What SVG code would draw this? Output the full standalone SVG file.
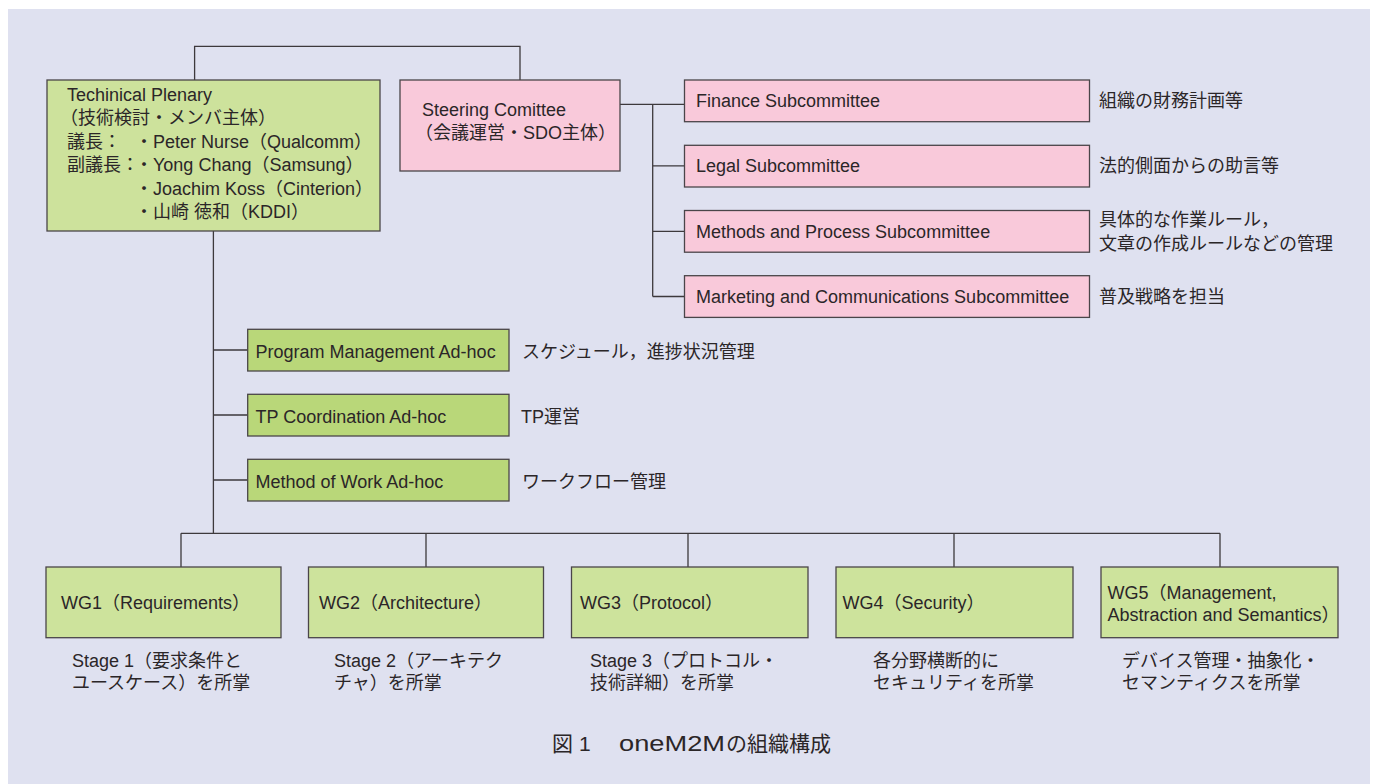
<svg xmlns="http://www.w3.org/2000/svg" width="1377" height="784" viewBox="0 0 1377 784">
  <style>
    text { font-family: "Liberation Sans", "Noto Sans CJK JP", sans-serif; font-size: 18px; fill: #2b2628; }
    .wire { fill: none; stroke: #3d393c; stroke-width: 1.3; }
    .box { stroke: #4a4549; stroke-width: 1.3; }
    .tp { fill: #cde29c; }
    .pink { fill: #f9c9da; }
    .adhoc { fill: #b9d779; }
    .wg { fill: #cde39c; }
    .cap { font-size: 21px; }
  </style>

  <!-- page background -->
  <rect x="0" y="0" width="1377" height="784" fill="#ffffff"/>
  <rect x="8" y="9" width="1362" height="775" fill="#dfe1f0"/>

  <!-- connectors -->
  <g id="connectors">
    <path class="wire" d="M194.6,80 V46.3 H520 V80"/>
    <path class="wire" d="M620,104.3 H684.5 M652.7,104.3 V296.5 M652.7,165.8 H684.5 M652.7,231.3 H684.5 M652.7,296.5 H684.5"/>
    <path class="wire" d="M213.4,231 V533.3 M213.4,350 H247.7 M213.4,415 H247.7 M213.4,480 H247.7"/>
    <path class="wire" d="M181,533.3 H1220 M181,533.3 V567 M426,533.3 V567 M688,533.3 V567 M954,533.3 V567 M1220,533.3 V567"/>
  </g>

  <!-- Technical Plenary -->
  <g id="technical-plenary">
    <rect class="box tp" x="47" y="80" width="333" height="151"/>
    <text x="67" y="101">Techinical Plenary</text>
    <text x="60" y="124">（技術検討・メンバ主体）</text>
    <text x="67" y="148">議長：<tspan x="135">・Peter Nurse（Qualcomm）</tspan></text>
    <text x="67" y="171">副議長：<tspan x="135">・Yong Chang（Samsung）</tspan></text>
    <text x="135" y="195">・Joachim Koss（Cinterion）</text>
    <text x="135" y="218">・山崎 徳和（KDDI）</text>
  </g>

  <!-- Steering Committee -->
  <g id="steering-committee">
    <rect class="box pink" x="400" y="80" width="220" height="91"/>
    <text x="422" y="116">Steering Comittee</text>
    <text x="415" y="139">（会議運営・SDO主体）</text>
  </g>

  <!-- subcommittees -->
  <g id="finance-subcommittee">
    <rect class="box pink" x="684.5" y="80" width="405" height="41.7"/>
    <text x="696" y="107">Finance Subcommittee</text>
    <text x="1099" y="107">組織の財務計画等</text>
  </g>
  <g id="legal-subcommittee">
    <rect class="box pink" x="684.5" y="145.3" width="405" height="41.7"/>
    <text x="696" y="172">Legal Subcommittee</text>
    <text x="1099" y="172">法的側面からの助言等</text>
  </g>
  <g id="methods-subcommittee">
    <rect class="box pink" x="684.5" y="210.5" width="405" height="41.7"/>
    <text x="696" y="237.5">Methods and Process Subcommittee</text>
    <text x="1099" y="226">具体的な作業ルール，</text>
    <text x="1099" y="250">文章の作成ルールなどの管理</text>
  </g>
  <g id="marketing-subcommittee">
    <rect class="box pink" x="684.5" y="275.7" width="405" height="41.7"/>
    <text x="696" y="302.5">Marketing and Communications Subcommittee</text>
    <text x="1099" y="302.5">普及戦略を担当</text>
  </g>

  <!-- ad-hoc groups -->
  <g id="program-management">
    <rect class="box adhoc" x="247.7" y="329.3" width="261.3" height="41.7"/>
    <text x="255.5" y="357.5">Program Management Ad-hoc</text>
    <text x="522" y="357.5">スケジュール，進捗状況管理</text>
  </g>
  <g id="tp-coordination">
    <rect class="box adhoc" x="247.7" y="394.3" width="261.3" height="41.7"/>
    <text x="255.5" y="422.5">TP Coordination Ad-hoc</text>
    <text x="521" y="422.5">TP運営</text>
  </g>
  <g id="method-of-work">
    <rect class="box adhoc" x="247.7" y="459.3" width="261.3" height="41.7"/>
    <text x="255.5" y="487.5">Method of Work Ad-hoc</text>
    <text x="522" y="487.5">ワークフロー管理</text>
  </g>

  <!-- working groups -->
  <g id="wg1">
    <rect class="box wg" x="46" y="567" width="235" height="70.7"/>
    <text x="61" y="608.5">WG1（Requirements）</text>
    <text x="72" y="666.5">Stage 1（要求条件と</text>
    <text x="72" y="688.5">ユースケース）を所掌</text>
  </g>
  <g id="wg2">
    <rect class="box wg" x="308.5" y="567" width="235" height="70.7"/>
    <text x="319" y="608.5">WG2（Architecture）</text>
    <text x="334" y="666.5">Stage 2（アーキテク</text>
    <text x="334" y="688.5">チャ）を所掌</text>
  </g>
  <g id="wg3">
    <rect class="box wg" x="571.5" y="567" width="236.5" height="70.7"/>
    <text x="580" y="608.5">WG3（Protocol）</text>
    <text x="590" y="666.5">Stage 3（プロトコル・</text>
    <text x="590" y="688.5">技術詳細）を所掌</text>
  </g>
  <g id="wg4">
    <rect class="box wg" x="836" y="567" width="237" height="70.7"/>
    <text x="842.5" y="608.5">WG4（Security）</text>
    <text x="873" y="666.5">各分野横断的に</text>
    <text x="873" y="688.5">セキュリティを所掌</text>
  </g>
  <g id="wg5">
    <rect class="box wg" x="1101" y="567" width="237" height="70.7"/>
    <text x="1107.5" y="599" font-size="17">WG5（Management,</text>
    <text x="1107.5" y="621" font-size="17">Abstraction and Semantics）</text>
    <text x="1122" y="666.5">デバイス管理・抽象化・</text>
    <text x="1122" y="688.5">セマンティクスを所掌</text>
  </g>

  <!-- figure caption -->
  <text class="cap" x="552" y="751">図<tspan x="579">1</tspan><tspan x="619" font-size="22" textLength="106" lengthAdjust="spacingAndGlyphs">oneM2M</tspan><tspan x="726">の組織構成</tspan></text>
</svg>
